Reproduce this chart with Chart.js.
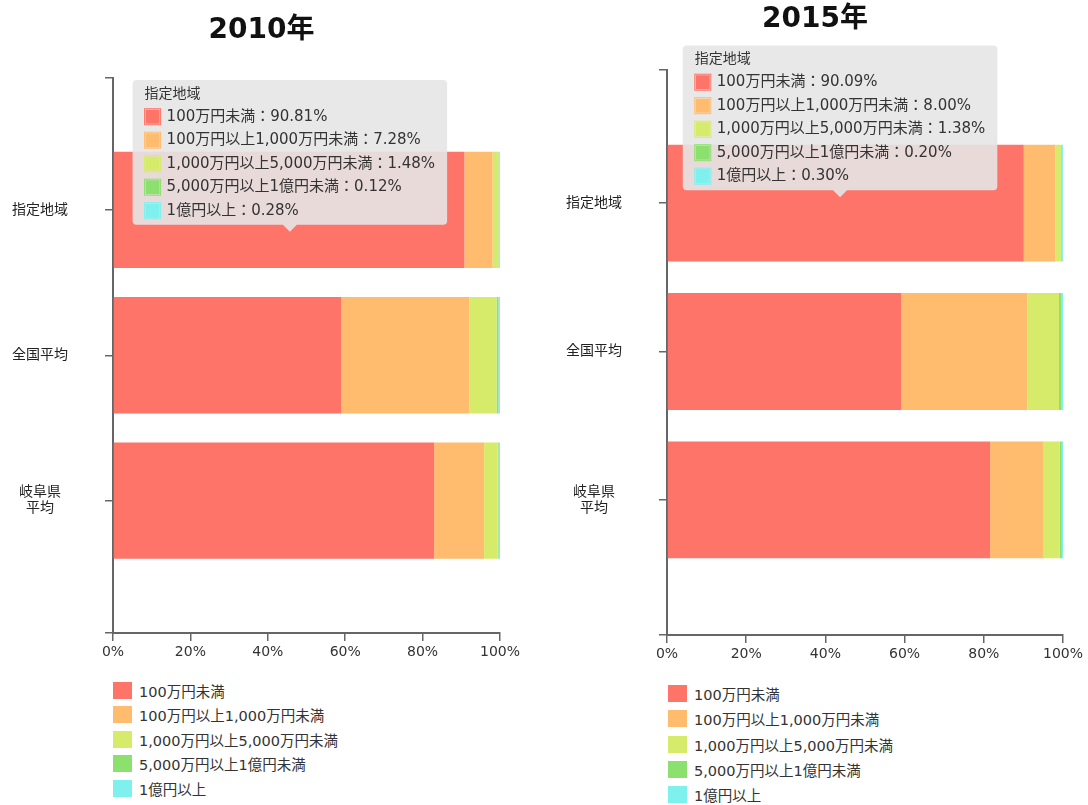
<!DOCTYPE html>
<html lang="ja">
<head>
<meta charset="UTF-8">
<title>所得階層別の割合 2010年・2015年</title>
<script src="https://cdn.jsdelivr.net/npm/chart.js@4.4.1/dist/chart.umd.min.js"></script>
<style>
  body { margin: 0; background: #fff; width: 1088px; height: 805px; position: relative; overflow: hidden;
         font-family: "DejaVu Sans", "Noto Sans CJK JP", sans-serif; }
  .box { position: absolute; top: 0; }
  .legend { position: absolute; list-style: none; margin: 0; padding: 0; font-size: 14.5px; color: #333; }
  .legend li { display: flex; align-items: center; white-space: nowrap; }
  .legend .sw { width: 19px; height: 17px; margin-right: 7px; flex: none; }
</style>
</head>
<body>
  <div class="box" style="left:0;width:523px;height:678px"><canvas id="c2010"></canvas></div>
  <ul class="legend" id="l2010" style="left:113px;top:678px"></ul>

  <div class="box" style="left:544px;width:542px;height:680px"><canvas id="c2015"></canvas></div>
  <ul class="legend" id="l2015" style="left:668px;top:681px"></ul>

<script>
// categories (y axis) and series names
const categories = ['指定地域', '全国平均', '岐阜県\n平均'];
const seriesNames = ['100万円未満', '100万円以上1,000万円未満', '1,000万円以上5,000万円未満', '5,000万円以上1億円未満', '1億円以上'];
const xTickValues = [0, 20, 40, 60, 80, 100];

// 2010年 (%), values in category order
const under1m_2010   = [90.81, 59.0, 83.0];
const m1to10_2010    = [7.28, 33.1, 12.9];
const m10to50_2010   = [1.48, 7.0, 3.5];
const m50to100_2010  = [0.12, 0.5, 0.25];
const over100m_2010  = [0.28, 0.4, 0.35];

// 2015年 (%)
const under1m_2015   = [90.09, 59.2, 81.6];
const m1to10_2015    = [8.00, 31.8, 13.5];
const m10to50_2015   = [1.38, 8.0, 4.1];
const m50to100_2015  = [0.20, 0.5, 0.5];
const over100m_2015  = [0.30, 0.5, 0.3];

const colors = ['#FF7469', '#FFBC6E', '#D6EB6A', '#8CE06E', '#7EF0EE'];

const FONT = '"DejaVu Sans", "Noto Sans CJK JP", sans-serif';
Chart.defaults.font.family = FONT;
Chart.defaults.animation = false;

// tooltip anchored at a value position on each chart
const anchors = {};
Chart.Tooltip.positioners.anchor = function (items) {
  if (!items.length) return false;
  const ch = this.chart, a = anchors[ch.canvas.id];
  return { x: ch.scales.x.getPixelForValue(a[0]), y: ch.scales.y.getPixelForValue(a[1]) };
};

function axisStyle() {
  return {
    offset: false,
    grid: { offset: false, drawOnChartArea: false, drawTicks: true, tickLength: 8, color: '#666', lineWidth: 1.5 },
    border: { display: true, color: '#666', width: 2 }
  };
}

function makeChart(id, title, series, o) {
  anchors[id] = o.anchor;
  const chart = new Chart(document.getElementById(id), {
    type: 'bar',
    data: {
      datasets: series.map((vals, k) => ({
        label: seriesNames[k],
        data: vals.map((v, i) => ({ x: v, y: i })),
        backgroundColor: colors[k],
        borderWidth: 0,
        stack: 'all',
        barPercentage: o.barPct,
        categoryPercentage: 1
      }))
    },
    options: {
      indexAxis: 'y',
      responsive: true,
      maintainAspectRatio: false,
      events: [],
      layout: { padding: { bottom: 2 } },
      plugins: {
        legend: { display: false },
        title: {
          display: true, text: title, color: '#111',
          font: { size: 28, weight: 'bold', family: FONT, lineHeight: 1.2 },
          padding: o.titlePad
        },
        tooltip: {
          position: 'anchor',
          xAlign: 'center', yAlign: 'bottom',
          backgroundColor: 'rgba(230,230,230,0.9)',
          titleColor: '#333', bodyColor: '#333',
          titleFont: { size: 14, weight: 'normal' },
          bodyFont: { size: 15 },
          titleMarginBottom: 5, bodySpacing: 5.5,
          padding: { top: 6, bottom: 5, left: 12, right: 12 },
          caretSize: 7, caretPadding: 0, cornerRadius: 4,
          boxWidth: 16, boxHeight: 16, boxPadding: 4,
          multiKeyBackground: 'rgba(0,0,0,0)',
          callbacks: {
            title: items => categories[items[0].parsed.y].replace('\n', ''),
            label: c => c.dataset.label + '：' + c.parsed.x.toFixed(2) + '%',
            labelColor: c => ({ borderColor: c.dataset.backgroundColor, backgroundColor: c.dataset.backgroundColor, borderWidth: 1 })
          }
        }
      },
      scales: {
        x: Object.assign({
          type: 'linear', stacked: true, min: 0, max: 100,
          afterBuildTicks: s => { s.ticks = xTickValues.map(v => ({ value: v })); },
          ticks: { callback: v => v + '%', color: '#333', font: { size: 14 }, padding: 3, maxRotation: 0 }
        }, axisStyle()),
        y: Object.assign({
          type: 'linear', reverse: true, min: o.yMin, max: o.yMax,
          afterBuildTicks: s => { s.ticks = [s.min, ...categories.map((_, i) => i), s.max].map(v => ({ value: v })); },
          afterFit: s => { s.width = o.yWidth; },
          ticks: {
            autoSkip: false, crossAlign: 'center', padding: 37, color: '#222',
            font: { size: 14, lineHeight: 1.15 },
            callback: v => Number.isInteger(v) && categories[v] ? categories[v].split('\n') : ''
          }
        }, axisStyle())
      }
    }
  });
  chart.tooltip.setActiveElements(seriesNames.map((_, k) => ({ datasetIndex: k, index: 0 })), { x: 0, y: 0 });
  chart.update();
  return chart;
}

function makeLegend(id, rowH) {
  const ul = document.getElementById(id);
  seriesNames.forEach((name, k) => {
    const li = document.createElement('li');
    li.style.height = rowH + 'px';
    li.innerHTML = '<span class="sw" style="background:' + colors[k] + '"></span>' + name;
    ul.appendChild(li);
  });
}

makeChart('c2010', '2010年',
  [under1m_2010, m1to10_2010, m10to50_2010, m50to100_2010, over100m_2010],
  { yMin: -0.91, yMax: 2.91, yWidth: 113, barPct: 0.88, titlePad: { top: 14, bottom: 30 }, anchor: [45.7, 0.15] });

makeChart('c2015', '2015年',
  [under1m_2015, m1to10_2015, m10to50_2015, m50to100_2015, over100m_2015],
  { yMin: -0.9, yMax: 2.91, yWidth: 123, barPct: 0.875, titlePad: { top: 3, bottom: 33 }, anchor: [43.7, -0.04] });

makeLegend('l2010', 24.5);
makeLegend('l2015', 25.3);
</script>
</body>
</html>
